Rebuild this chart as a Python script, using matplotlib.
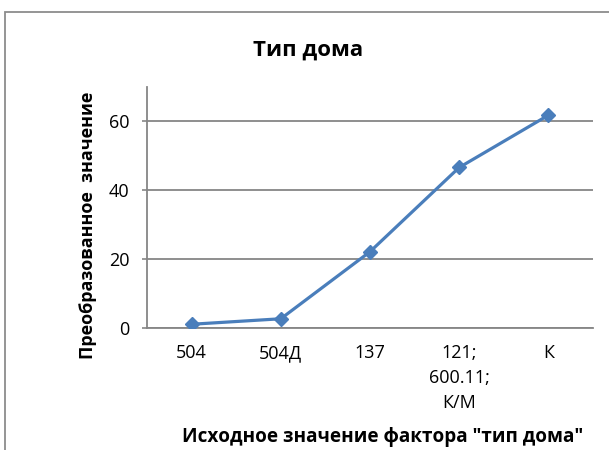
import matplotlib.pyplot as plt
from matplotlib.patches import Rectangle

# data
categories = ['504', '504Д', '137', '121;\n600.11;\nК/М', 'К']
values = [1.0, 2.6, 22.1, 46.6, 61.8]
y_ticks = [0, 20, 40, 60]

plt.rcParams['font.family'] = ['Open Sans', 'DejaVu Sans']

fig = plt.figure(figsize=(6.09, 4.50), dpi=100)

# outer chart border (cut off at right and bottom)
fig.patches.append(Rectangle((5 / 609, -0.1), 1.2, 1 - 12 / 450 + 0.1,
                             transform=fig.transFigure, fill=False,
                             edgecolor='#8c8c8c', linewidth=1.3))

ax = fig.add_axes([147 / 609, 1 - 327.7 / 450, 446 / 609, 240.7 / 450])

x = range(len(categories))
ax.plot(x, values, color='#4A7EBB', linewidth=2.3, marker='D',
        markersize=7.5, markerfacecolor='#4A7EBB', markeredgecolor='#4A7EBB',
        zorder=3)

ax.set_xlim(-0.5, len(categories) - 0.5)
ax.set_ylim(0, 70)
ax.set_yticks(y_ticks)
ax.set_xticks(list(x))
ax.set_xticklabels(categories, fontsize=13, linespacing=1.5, va='top')
ax.tick_params(axis='y', labelsize=13, length=3.6, width=1.2,
               color='#868686', pad=9)
ax.tick_params(axis='x', length=0, pad=12)

ax.grid(axis='y', color='#868686', linewidth=1.3)
ax.set_axisbelow(True)
for side in ['top', 'right']:
    ax.spines[side].set_visible(False)
for side in ['left', 'bottom']:
    ax.spines[side].set_color('#868686')
    ax.spines[side].set_linewidth(1.3)

fig.text(308 / 609, 1 - 50 / 450, 'Тип дома', ha='center', va='center',
         fontsize=16, fontweight='bold')
fig.text(88 / 609, 1 - 225 / 450, 'Преобразованное  значение', ha='center',
         va='center', rotation=90, fontsize=13, fontweight='bold')
fig.text(383 / 609, 1 - 437 / 450, 'Исходное значение фактора "тип дома"',
         ha='center', va='center', fontsize=13.6, fontweight='bold')

fig.savefig('out.png', dpi=100)
